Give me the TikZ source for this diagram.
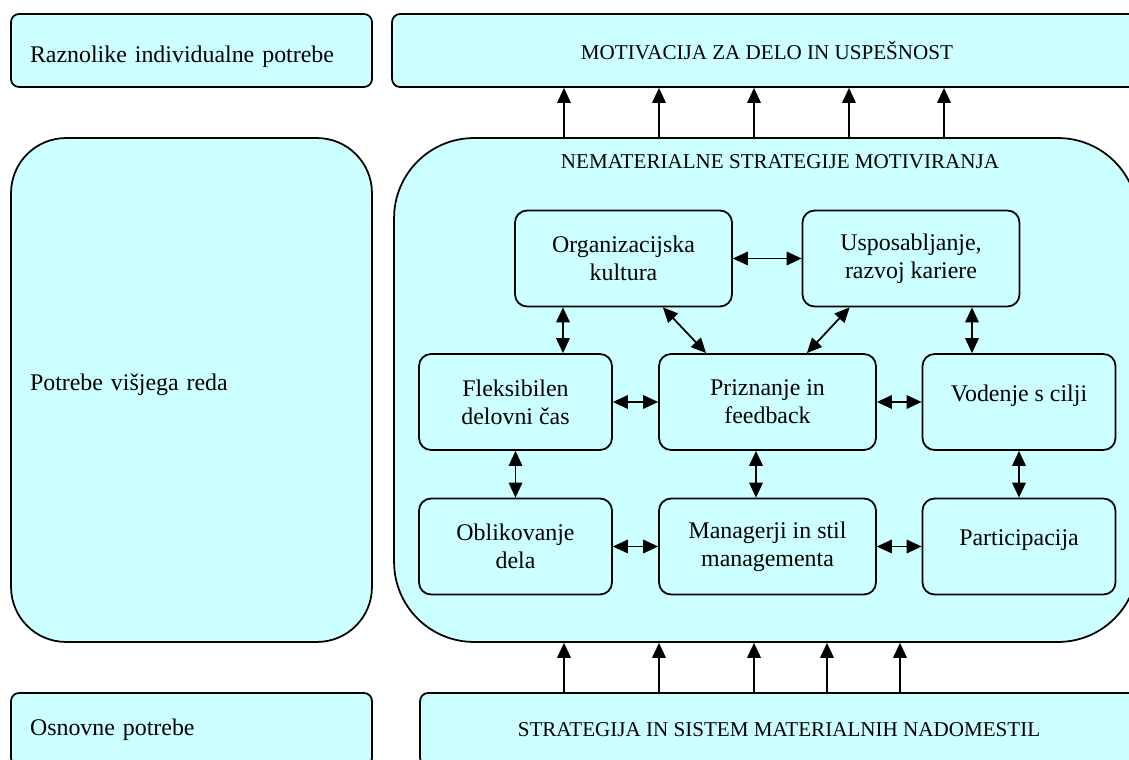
\documentclass[tikz,border=0pt]{standalone}
\usepackage{fontspec}
\setmainfont{Liberation Serif}
\usetikzlibrary{arrows.meta,positioning}
\definecolor{boxcyan}{HTML}{CCFFFF}

\begin{document}
\begin{tikzpicture}[x=0.02cm,y=-0.02cm,>={Triangle[length=0.3cm,width=0.27cm]}]
\tikzstyle{every node}=[font=\fontsize{13.6}{16}\selectfont];
\tikzstyle{panel}=[draw,fill=boxcyan,line width=1pt,rounded corners=0.16cm,minimum height=1.46cm,inner sep=0pt];
\tikzstyle{side}=[panel,minimum width=7.22cm,text width=6.46cm,align=left];
\tikzstyle{wide}=[panel,font=\fontsize{12}{14}\selectfont];
\tikzstyle{cell}=[draw,fill=boxcyan,line width=1pt,rounded corners=0.24cm,minimum height=1.92cm,align=center,inner sep=0pt];
\tikzstyle{narrow}=[cell,minimum width=3.86cm];
\tikzstyle{broad}=[cell,minimum width=4.34cm];

\useasboundingbox (0,0) rectangle (1129,760);

  \node[side] (raznol) at (191.5,50.5) {\raisebox{-3.4pt}[\height][\depth]{Raznolike individualne potrebe}};
  \node[wide,minimum width=15cm] (motiv) at (767,50.5) {MOTIVACIJA ZA DELO IN USPEŠNOST};
  \node[side,minimum height=10.08cm,rounded corners=1.1cm] (visji) at (191.5,390) {\raisebox{2.8pt}[\height][\depth]{Potrebe višjega reda}};
  \node[panel,minimum width=14.88cm,minimum height=10.08cm,rounded corners=1.6cm] (nemat) at (766,390) {};
  \node[font=\fontsize{12}{14}\selectfont] (nematL) at (780,162) {NEMATERIALNE STRATEGIJE MOTIVIRANJA};
  \node[side] (osnov) at (191.5,729.5) {Osnovne potrebe};
  \node[wide,minimum width=14.36cm] (strat) at (779,729.5) {STRATEGIJA IN SISTEM MATERIALNIH NADOMESTIL};

  \node[broad] (org) at (623.5,258.5) {Organizacijska\\kultura};
  \node[broad] (usp) at (911,258.5) {Usposabljanje,\\razvoj kariere};
  \node[narrow] (flek) at (515.5,402) {Fleksibilen\\delovni čas};
  \node[broad] (priz) at (767.5,402) {Priznanje in\\feedback};
  \node[narrow] (vod) at (1019,402) {Vodenje s cilji\\[-6pt]\mbox{}};
  \node[narrow] (oblik) at (515.5,546.5) {Oblikovanje\\dela};
  \node[broad] (manag) at (767.5,546.5) {Managerji in stil\\managementa};
  \node[narrow] (partic) at (1019,546.5) {Participacija\\[-6pt]\mbox{}};

  \foreach \x in {564,659,754,849,944}
\draw [->,line width=1pt] (nemat.north -| \x,0) -- (motiv.south -| \x,0);
  \foreach \x in {564,659,754,827,900}
\draw [->,line width=1pt] (strat.north -| \x,0) -- (nemat.south -| \x,0);

  \foreach \from/\to in {org/usp, flek/priz, priz/vod, oblik/manag, manag/partic, flek/oblik, vod/partic}
\draw [<->,line width=1pt] (\from) -- (\to);
  \draw [<->,line width=1pt] (org.south -| 563,0) -- (flek.north -| 563,0);
  \draw [<->,line width=1pt] (usp.south -| 972,0) -- (vod.north -| 972,0);
  \draw [<->,line width=1pt] (priz.south -| 756,0) -- (manag.north -| 756,0);
  \draw [<->,line width=1pt] ([xshift=-1.4cm]org.south east) -- ([xshift=0.96cm]priz.north west);
  \draw [<->,line width=1pt] ([xshift=0.96cm]usp.south west) -- ([xshift=-1.4cm]priz.north east);

\end{tikzpicture}
\end{document}
